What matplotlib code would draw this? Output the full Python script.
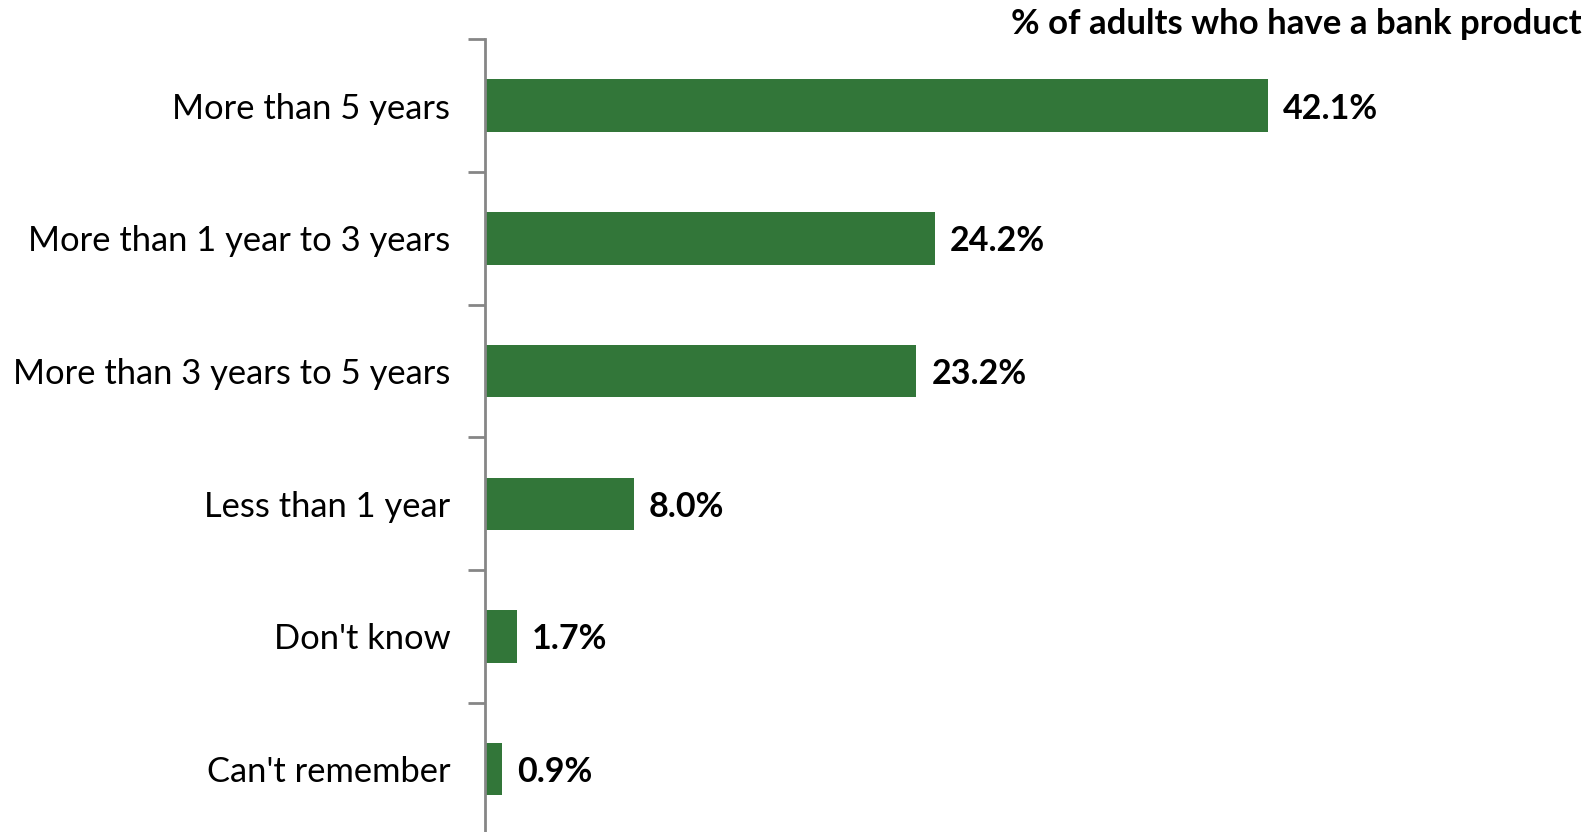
import matplotlib
matplotlib.use("Agg")
import matplotlib.pyplot as plt

categories = [
    "More than 5 years",
    "More than 1 year to 3 years",
    "More than 3 years to 5 years",
    "Less than 1 year",
    "Don't know",
    "Can't remember",
]
values = [42.1, 24.2, 23.2, 8.0, 1.7, 0.9]
value_labels = ["42.1%", "24.2%", "23.2%", "8.0%", "1.7%", "0.9%"]
title = "% of adults who have a bank product"

plt.rcParams["font.family"] = ["Lato", "DejaVu Sans"]

W, H = 1590, 832
fig = plt.figure(figsize=(W / 100, H / 100), dpi=100)
left_px, top_px, bottom_px = 485, 39.3, 835.5
ax = fig.add_axes([left_px / W, 1 - bottom_px / H, 1 - left_px / W, (bottom_px - top_px) / H])

n = len(categories)
pos = list(range(n))
ax.barh(pos, values, height=0.395, color="#327639", zorder=2)
ax.set_ylim(n - 0.5, -0.5)
ax.set_xlim(0, 59.44)

for p, v, lab in zip(pos, values, value_labels):
    ax.annotate(lab, (v, p), xytext=(15, -3), textcoords="offset pixels",
                ha="left", va="center", fontsize=24.5, fontweight="bold", color="black")

ax.set_yticks(pos)
ax.set_yticklabels(categories, fontsize=24.8)
ax.tick_params(axis="y", which="major", length=0, pad=25)
ax.set_yticks([i - 0.5 for i in range(n + 1)], minor=True)
ax.tick_params(axis="y", which="minor", length=12, width=2, color="#868686")
ax.set_xticks([])

for s in ["top", "right", "bottom"]:
    ax.spines[s].set_visible(False)
ax.spines["left"].set_color("#868686")
ax.spines["left"].set_linewidth(2)

fig.text(1582 / W, 1 - 24.5 / H, title, ha="right", va="center",
         fontsize=25, fontweight="bold", color="black")

fig.savefig("out.png", dpi=100)
